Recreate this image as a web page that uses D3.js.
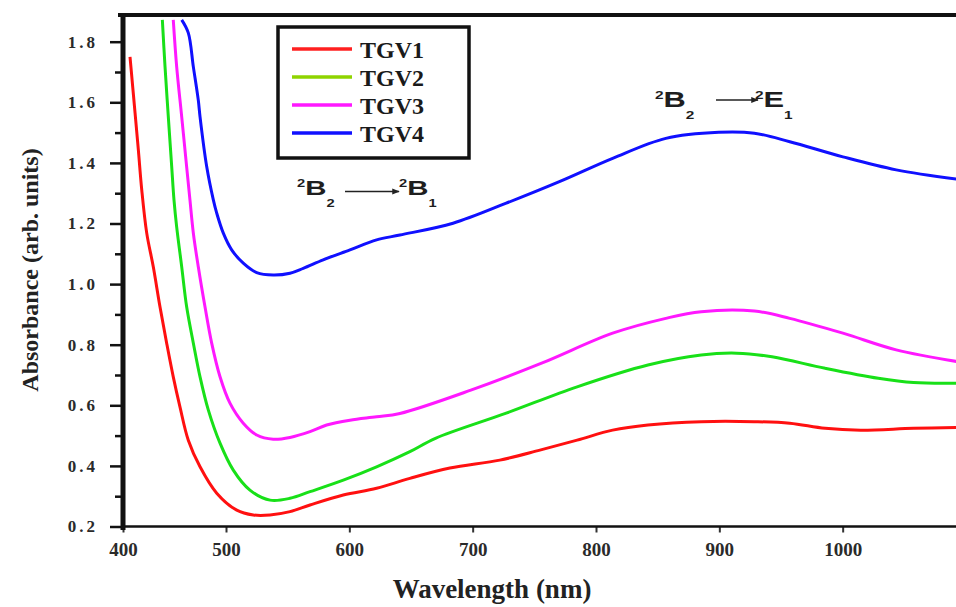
<!DOCTYPE html>
<html>
<head>
<meta charset="utf-8">
<script src="https://cdn.jsdelivr.net/npm/d3@7/dist/d3.min.js"></script>
<style>
  body { margin: 0; background: #fff; }
  svg { display: block; }
</style>
</head>
<body>
<script>
width = 956
height = 607

// series (wavelength in nm, absorbance in arb. units)
tgv1Wl = [406.8, 409.4, 411.7, 414.9, 418.2, 423.0, 429.4, 435.9, 442.4, 448.8, 455.3, 463.4, 474.8, 491.0, 508.7, 522.1, 535.7, 551.9, 568.1, 595.1, 622.1, 649.1, 681.5, 722.0, 754.5, 784.7, 813.5, 842.1, 885.3, 928.4, 957.1, 985.8, 1014.6, 1057.5, 1094.8]
tgv1Abs = [1.750, 1.652, 1.565, 1.443, 1.311, 1.169, 1.057, 0.925, 0.805, 0.694, 0.595, 0.485, 0.397, 0.310, 0.254, 0.238, 0.238, 0.249, 0.271, 0.304, 0.326, 0.359, 0.393, 0.419, 0.452, 0.485, 0.518, 0.535, 0.546, 0.546, 0.541, 0.524, 0.518, 0.524, 0.527]

tgv2Wl = [438.2, 440.8, 444.0, 447.3, 449.5, 452.1, 457.0, 461.8, 468.3, 474.8, 482.8, 494.2, 505.9, 519.4, 535.7, 551.9, 568.1, 595.1, 622.1, 649.1, 669.8, 727.2, 784.7, 842.1, 885.3, 914.1, 942.7, 985.8, 1028.9, 1057.5, 1094.8]
tgv2Abs = [1.872, 1.718, 1.552, 1.387, 1.278, 1.189, 1.057, 0.925, 0.805, 0.694, 0.585, 0.475, 0.386, 0.320, 0.287, 0.293, 0.315, 0.353, 0.397, 0.447, 0.491, 0.574, 0.661, 0.733, 0.766, 0.772, 0.760, 0.722, 0.689, 0.675, 0.673]

tgv3Wl = [448.8, 452.1, 457.0, 461.8, 465.0, 468.3, 473.1, 479.6, 486.1, 494.2, 503.2, 514.0, 524.9, 538.3, 551.9, 568.1, 581.6, 600.5, 622.1, 641.0, 698.5, 755.9, 813.5, 856.6, 885.3, 928.4, 957.1, 1000.2, 1043.4, 1094.8]
tgv3Abs = [1.872, 1.718, 1.552, 1.387, 1.278, 1.168, 1.057, 0.925, 0.805, 0.694, 0.607, 0.541, 0.502, 0.488, 0.494, 0.513, 0.535, 0.551, 0.562, 0.573, 0.650, 0.739, 0.838, 0.887, 0.909, 0.911, 0.887, 0.838, 0.783, 0.743]

tgv4Wl = [457.0, 463.4, 468.3, 473.1, 474.8, 481.3, 487.7, 491.0, 497.4, 504.6, 514.0, 524.9, 538.3, 551.9, 562.6, 578.8, 600.5, 622.1, 641.0, 684.1, 727.2, 770.3, 813.5, 856.6, 899.6, 928.4, 957.1, 1000.2, 1043.4, 1094.8]
tgv4Abs = [1.872, 1.829, 1.717, 1.607, 1.552, 1.387, 1.278, 1.234, 1.168, 1.113, 1.069, 1.038, 1.030, 1.036, 1.052, 1.080, 1.113, 1.146, 1.162, 1.201, 1.267, 1.338, 1.415, 1.481, 1.501, 1.498, 1.470, 1.420, 1.377, 1.345]

seriesNames = ["TGV1", "TGV2", "TGV3", "TGV4"]
seriesColors = ["#ff1010", "#18e018", "#ff18ff", "#1010ff"]
legendColors = ["#ff2020", "#8fd400", "#ff18ff", "#1010ff"]

xTicks = [400, 500, 600, 700, 800, 900, 1000]
yTicks = [0.2, 0.4, 0.6, 0.8, 1.0, 1.2, 1.4, 1.6, 1.8]
yMinorTicks = [0.3, 0.5, 0.7, 0.9, 1.1, 1.3, 1.5, 1.7]

series = [
  {name: seriesNames[0], wl: tgv1Wl, abs: tgv1Abs},
  {name: seriesNames[1], wl: tgv2Wl, abs: tgv2Abs},
  {name: seriesNames[2], wl: tgv3Wl, abs: tgv3Abs},
  {name: seriesNames[3], wl: tgv4Wl, abs: tgv4Abs}
]

// the printed axis is not quite uniform between 400 and 500
x = d3.scaleLinear().domain([400, 500, 1100]).range([123, 226, 966])
y = d3.scaleLinear().domain([0.2, 1.8]).range([526.5, 41.7])

plotTop = 15
plotBottom = 526.5

svg = d3.select("body")
    .append("svg")
    .attr("width", width)
    .attr("height", height)

svg.append("defs").append("clipPath")
    .attr("id", "plotclip")
  .append("rect")
    .attr("x", 124)
    .attr("y", plotTop + 1)
    .attr("width", width - 124)
    .attr("height", plotBottom - plotTop - 1)

svg.select("defs").append("marker")
    .attr("id", "arrowhead")
    .attr("viewBox", "0 0 10 10")
    .attr("refX", 9)
    .attr("refY", 5)
    .attr("markerWidth", 5)
    .attr("markerHeight", 5)
    .attr("orient", "auto")
  .append("path")
    .attr("d", "M0,1 L10,5 L0,9 z")
    .attr("fill", "#222")

// curves
line = d3.line()
    .x(function(d) { return x(d[0]); })
    .y(function(d) { return y(d[1]); })
    .curve(d3.curveCatmullRom.alpha(0.5))

svg.append("g")
    .attr("clip-path", "url(#plotclip)")
  .selectAll("path")
    .data(series)
    .enter()
    .append("path")
    .attr("d", function(s) { return line(d3.zip(s.wl, s.abs)); })
    .attr("fill", "none")
    .attr("stroke", function(s, i) { return seriesColors[i]; })
    .attr("stroke-width", 3)
    .attr("stroke-linejoin", "round")

// y axis (major + minor ticks)
yAxis = svg.append("g")
    .attr("transform", "translate(123,0)")
    .call(d3.axisLeft(y).tickValues(yTicks).tickSize(13).tickPadding(12).tickFormat(d3.format(".1f")))
yAxis.select(".domain").remove()
yAxis.selectAll("line").attr("stroke", "#111").attr("stroke-width", 2.5)
yAxis.selectAll("text")
    .attr("font-family", "Liberation Serif, Times New Roman, serif")
    .attr("font-weight", "bold")
    .attr("font-size", 17)
    .attr("letter-spacing", 3)
    .attr("fill", "#2a2a2a")

yMinor = svg.append("g")
    .attr("transform", "translate(123,0)")
    .call(d3.axisLeft(y).tickValues(yMinorTicks).tickSize(8).tickFormat(""))
yMinor.select(".domain").remove()
yMinor.selectAll("line").attr("stroke", "#111").attr("stroke-width", 2.5)

// x axis
xAxis = svg.append("g")
    .attr("transform", "translate(0," + plotBottom + ")")
    .call(d3.axisBottom(x).tickValues(xTicks).tickSize(6).tickPadding(10).tickFormat(d3.format("d")))
xAxis.select(".domain").remove()
xAxis.selectAll("line").attr("stroke", "#333").attr("stroke-width", 2)
xAxis.selectAll("text")
    .attr("font-family", "Liberation Serif, Times New Roman, serif")
    .attr("font-weight", "bold")
    .attr("font-size", 19)
    .attr("fill", "#2a2a2a")

// frame lines
svg.append("line")
    .attr("x1", 121).attr("x2", width)
    .attr("y1", plotBottom).attr("y2", plotBottom)
    .attr("stroke", "#111").attr("stroke-width", 2.5)
svg.append("line")
    .attr("x1", 118).attr("x2", width)
    .attr("y1", plotTop).attr("y2", plotTop)
    .attr("stroke", "#111").attr("stroke-width", 4)
svg.append("line")
    .attr("x1", 123).attr("x2", 123)
    .attr("y1", 13).attr("y2", 530)
    .attr("stroke", "#111").attr("stroke-width", 5)

// axis titles
svg.append("text")
    .attr("transform", "translate(38,270) rotate(-90)")
    .attr("text-anchor", "middle")
    .attr("font-family", "Liberation Serif, Times New Roman, serif")
    .attr("font-weight", "bold")
    .attr("font-size", 24)
    .attr("fill", "#222")
    .text("Absorbance (arb. units)")

svg.append("text")
    .attr("x", 492)
    .attr("y", 598)
    .attr("text-anchor", "middle")
    .attr("font-family", "Liberation Serif, Times New Roman, serif")
    .attr("font-weight", "bold")
    .attr("font-size", 27)
    .attr("fill", "#222")
    .text("Wavelength (nm)")

// legend
legendY = d3.scalePoint().domain(seriesNames).range([49, 133])
legend = svg.append("g")
legend.append("rect")
    .attr("x", 278).attr("y", 27)
    .attr("width", 191).attr("height", 131)
    .attr("fill", "#fff")
    .attr("stroke", "#111")
    .attr("stroke-width", 3.5)
legend.selectAll("line.key")
    .data(seriesNames)
    .enter()
    .append("line")
    .attr("class", "key")
    .attr("x1", 292).attr("x2", 352)
    .attr("y1", function(d) { return legendY(d); })
    .attr("y2", function(d) { return legendY(d); })
    .attr("stroke", function(d, i) { return legendColors[i]; })
    .attr("stroke-width", 3.5)
legend.selectAll("text")
    .data(seriesNames)
    .enter()
    .append("text")
    .attr("x", 360)
    .attr("y", function(d) { return legendY(d) + 9; })
    .attr("font-family", "Liberation Serif, Times New Roman, serif")
    .attr("font-weight", "bold")
    .attr("font-size", 24)
    .attr("fill", "#1a1a1a")
    .text(function(d) { return d; })

// transition labels: superscript, letter, subscript (text is printed wide)
function term(px, py, sup, letter, sub, size) {
  var g = svg.append("g")
      .attr("transform", "translate(" + px + "," + py + ") scale(1.4,1)")
  var t = g.append("text")
      .attr("font-family", "Liberation Sans, Arial, sans-serif")
      .attr("font-weight", "bold")
      .attr("fill", "#1e1e1e")
  t.append("tspan").attr("font-size", size * 0.5).attr("dy", -size * 0.38).text(sup)
  t.append("tspan").attr("font-size", size).attr("dy", size * 0.38).text(letter)
  t.append("tspan").attr("font-size", size * 0.5).attr("dy", size * 0.55).text(sub)
}
function arrow(x1, x2, yy) {
  svg.append("line")
    .attr("x1", x1).attr("x2", x2)
    .attr("y1", yy).attr("y2", yy)
    .attr("stroke", "#222")
    .attr("stroke-width", 1.5)
    .attr("marker-end", "url(#arrowhead)")
}

term(297, 195, "2", "B", "2", 21)
arrow(345, 399, 191.5)
term(399, 195, "2", "B", "1", 21)

term(655, 107, "2", "B", "2", 22)
arrow(716, 758, 100)
term(755, 107, "2", "E", "1", 22)
</script>
</body>
</html>
